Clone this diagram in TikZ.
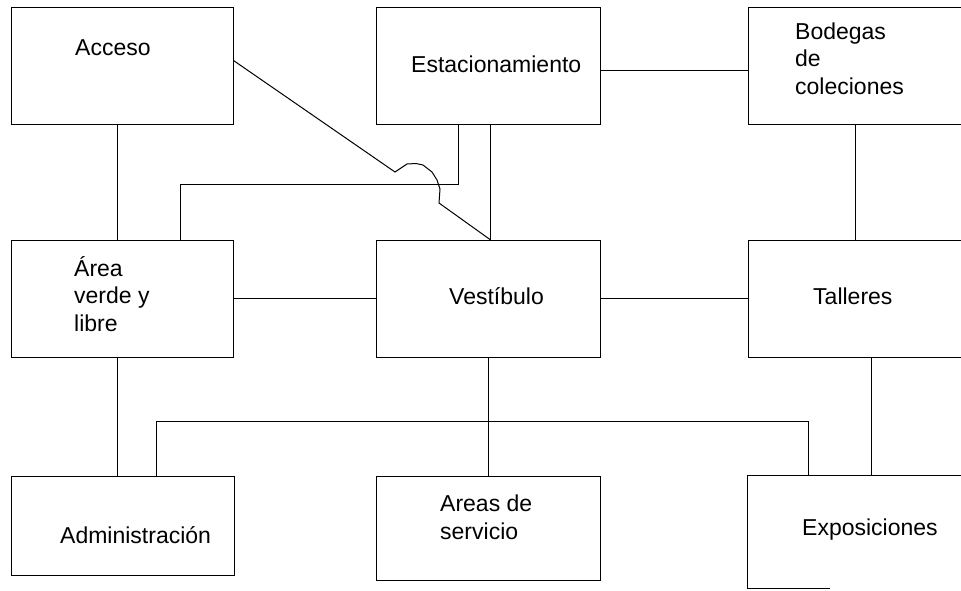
\documentclass[tikz,border=0pt]{standalone}
\usepackage{fontspec}
\setmainfont{Liberation Sans}
\begin{document}
\begin{tikzpicture}[x=1pt,y=-1pt,
  room/.style={draw=black,line width=1pt,minimum width=#1,inner sep=0pt},
  lbl/.style={inner sep=0pt,anchor=base west,align=left,font=\fontsize{23}{27.3}\selectfont},
  link/.style={draw=black,line width=1pt}]
\useasboundingbox[fill=white] (0,0) rectangle (961,590);
% boxes
\node[room=222pt,minimum height=117pt] (acc) at (122,65.5) {};
\node[room=224pt,minimum height=117pt] (est) at (488,65.5) {};
\node[room=227pt,minimum height=117pt] (bod) at (861.5,65.5) {};
\node[room=222pt,minimum height=117pt] (ver) at (122,298.5) {};
\node[room=224pt,minimum height=117pt] (ves) at (488,298.5) {};
\node[room=227pt,minimum height=117pt] (tal) at (861.5,298.5) {};
\node[room=223pt,minimum height=99pt] (adm) at (122.5,525.5) {};
\node[room=224pt,minimum height=104pt] (ser) at (488,528) {};
\node[draw=none,minimum width=227pt,minimum height=112pt,inner sep=0pt] (exp) at (861.5,532) {};
\draw[link] (exp.north east) -- (exp.north west) -- (exp.south west) -- ([xshift=82pt]exp.south west);
% labels (base = last line)
\node[lbl] (tacc) at (75,55) {Acceso};
\node[lbl] (test) at (411,72) {Estacionamiento};
\node[lbl] (tbod) at (795,94) {Bodegas\\de\\coleciones};
\node[lbl] (tver) at (74,331) {Área\\verde y\\libre};
\node[lbl] (tves) at (449,304) {Vestíbulo};
\node[lbl] (ttal) at (813,304) {Talleres};
\node[lbl] (tadm) at (60,543) {Administración};
\node[lbl] (tser) at (440,539) {Areas de\\servicio};
\node[lbl] (texp) at (802,535) {Exposiciones};
% connectors
\draw[link] (acc.south -| 117,0) -- (ver.north -| 117,0);
\draw[link] (ver.south -| 117,0) -- (adm.north -| 117,0);
\draw[link] ([yshift=5pt]acc.east) -- (395,172) -- (407,164) -- (416,163.5) -- (423,165) -- (432,172) -- (437,180) -- (440,189) -- (439,203) -- (ves.north -| 490,0);
\draw[link] (est.south -| 458,0) -- (458,184) -- (180,184) -- (ver.north -| 180,0);
\draw[link] (est.south -| 490,0) -- (ves.north -| 490,0);
\draw[link] (est.east |- 0,70) -- (bod.west |- 0,70);
\draw[link] (bod.south -| 855,0) -- (tal.north -| 855,0);
\draw[link] (ver.east |- 0,298) -- (ves.west |- 0,298);
\draw[link] (ves.east |- 0,298) -- (tal.west |- 0,298);
\draw[link] (ves.south -| 488,0) -- (ser.north -| 488,0);
\draw[link] (tal.south -| 871,0) -- (exp.north -| 871,0);
\draw[link] (adm.north -| 156,0) -- (156,421) -- (808,421) -- (exp.north -| 808,0);
\end{tikzpicture}
\end{document}
